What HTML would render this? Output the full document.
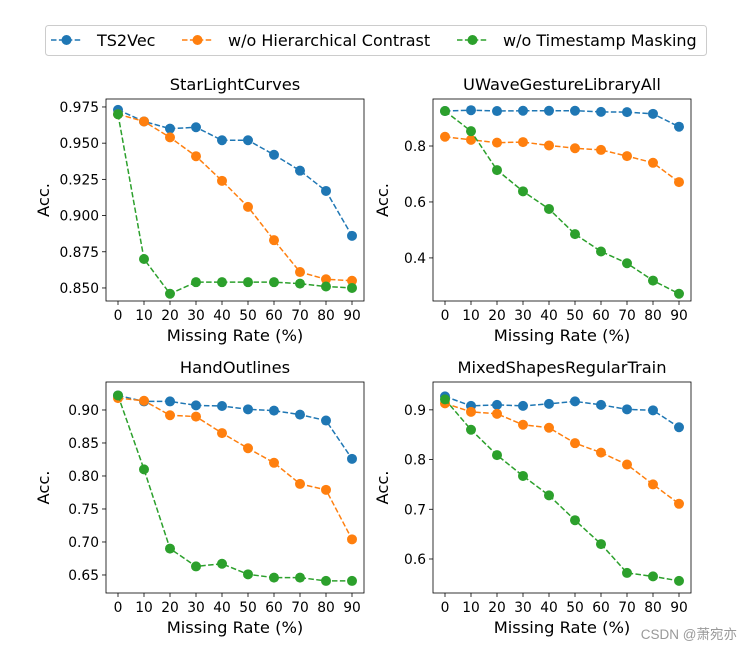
<!DOCTYPE html>
<html><head><meta charset="utf-8"><style>
body{margin:0;background:#fff;}
svg{font-family:"DejaVu Sans","Liberation Sans",sans-serif;}
</style></head><body>
<svg id="chart" width="745" height="652" xmlns="http://www.w3.org/2000/svg">
<g id="legend">
<rect x="45.5" y="25.5" width="661" height="30" rx="3" fill="#fff" stroke="#ccc"/>
</g>
</svg>
<script>
const categories=[0,10,20,30,40,50,60,70,80,90];
const seriesNames=["TS2Vec","w/o Hierarchical Contrast","w/o Timestamp Masking"];
const colors=["#1f77b4","#ff7f0e","#2ca02c"];
const titles=["StarLightCurves","UWaveGestureLibraryAll","HandOutlines","MixedShapesRegularTrain"];
const starBlue=[.973,.965,.960,.961,.952,.952,.942,.931,.917,.886];
const starOrange=[.970,.965,.954,.941,.924,.906,.883,.861,.856,.855];
const starGreen=[.970,.870,.846,.854,.854,.854,.854,.853,.851,.850];
const uwaveBlue=[.925,.928,.925,.926,.926,.926,.922,.921,.915,.869];
const uwaveOrange=[.833,.822,.812,.814,.802,.792,.786,.764,.740,.671];
const uwaveGreen=[.925,.853,.714,.638,.575,.485,.423,.381,.319,.272];
const handBlue=[.922,.913,.913,.907,.906,.901,.899,.893,.884,.826];
const handOrange=[.918,.914,.892,.890,.865,.842,.820,.788,.779,.704];
const handGreen=[.922,.810,.690,.663,.667,.651,.646,.646,.641,.641];
const mixedBlue=[.927,.908,.910,.908,.912,.917,.910,.901,.899,.865];
const mixedOrange=[.913,.896,.892,.870,.864,.833,.814,.790,.750,.711];
const mixedGreen=[.921,.860,.809,.767,.728,.678,.630,.572,.565,.556];
const starTicks=[.850,.875,.900,.925,.950,.975];
const uwaveTicks=[.4,.6,.8];
const handTicks=[.65,.70,.75,.80,.85,.90];
const mixedTicks=[.6,.7,.8,.9];
const tickDecimals=[3,1,2,1];
const yDomains=[[.841,.9805],[.246,.968],[.6227,.9424],[.5316,.956]];
const allSeries=[[starBlue,starOrange,starGreen],[uwaveBlue,uwaveOrange,uwaveGreen],[handBlue,handOrange,handGreen],[mixedBlue,mixedOrange,mixedGreen]];
const allTicks=[starTicks,uwaveTicks,handTicks,mixedTicks];
const boxes=[[106,99,258,202],[433,99,258,202],[106,382,258,211],[433,382,258,211]];
const NS="http://www.w3.org/2000/svg";
const svg=document.getElementById('chart');
function mk(t,a,p){const e=document.createElementNS(NS,t);for(const k in a)e.setAttribute(k,a[k]);(p||svg).appendChild(e);return e;}
boxes.forEach((b,i)=>{
  const [bx,by,bw,bh]=b;
  const g=mk('g',{});
  
  
  const xS=v=>bx+12+(v/90)*(bw-24);
  const [d0,d1]=yDomains[i];
  const yS=v=>by+bh-(v-d0)/(d1-d0)*bh;
  const t=mk('text',{x:bx+bw/2,y:by-9,'text-anchor':'middle','font-size':16.3,fill:'#000'},g);t.textContent=titles[i];
  
  
  categories.forEach(c=>{
    mk('line',{x1:xS(c),x2:xS(c),y1:by+bh,y2:by+bh+4,stroke:'#000','stroke-width':0.8},g);
    const l=mk('text',{x:xS(c),y:by+bh+19,'text-anchor':'middle','font-size':13.8},g);l.textContent=c;
    
    
  });
  allTicks[i].forEach(v=>{
    mk('line',{x1:bx-4,x2:bx,y1:yS(v),y2:yS(v),stroke:'#000','stroke-width':0.8},g);
    const l=mk('text',{x:bx-7,y:yS(v)+5,'text-anchor':'end','font-size':13.8},g);l.textContent=v.toFixed(tickDecimals[i]);
    
    
  });
  const xt=mk('text',{x:bx+bw/2,y:by+bh+40,'text-anchor':'middle','font-size':16.3},g);xt.textContent='Missing Rate (%)';
  
  
  const yx=bx-(i%2==0?57:45),yy=by+bh/2;
  const yt=mk('text',{x:yx,y:yy,'text-anchor':'middle','font-size':16.3,transform:`rotate(-90 ${yx} ${yy})`},g);yt.textContent='Acc.';
  
  
  allSeries[i].forEach((s,k)=>{
    const pl=mk('polyline',{points:s.map((v,j)=>xS(categories[j])+','+yS(v)).join(' '),fill:'none',stroke:colors[k],'stroke-width':1.5,'stroke-dasharray':'5.5,2.4'},g);
    
    
    s.forEach((v,j)=>{
      const c=mk('circle',{cx:xS(categories[j]),cy:yS(v),r:5,fill:colors[k]},g);
      
      
    });
  });
  const fr=mk('rect',{x:bx,y:by,width:bw,height:bh,fill:'none',stroke:'#000','stroke-width':0.8},g);
  
  
});
const lg=document.getElementById('legend');
const lx=[51,182,457];
const tx=[97,228,503];
seriesNames.forEach((n,k)=>{
  const x=lx[k];
  mk('line',{x1:x,x2:x+31,y1:40,y2:40,stroke:colors[k],'stroke-width':1.5,'stroke-dasharray':'5.5,2.4'},lg);
  mk('circle',{cx:x+15.5,cy:40,r:5,fill:colors[k]},lg);
  const t=mk('text',{x:tx[k],y:46,'font-size':16},lg);t.textContent=n;
  
  
});
const w=mk('text',{x:737,y:639,'text-anchor':'end','font-size':13.5,fill:'#999','font-family':'"Liberation Sans","Noto Sans CJK SC",sans-serif'});w.textContent='CSDN @萧宛亦';


</script>
</body></html>
